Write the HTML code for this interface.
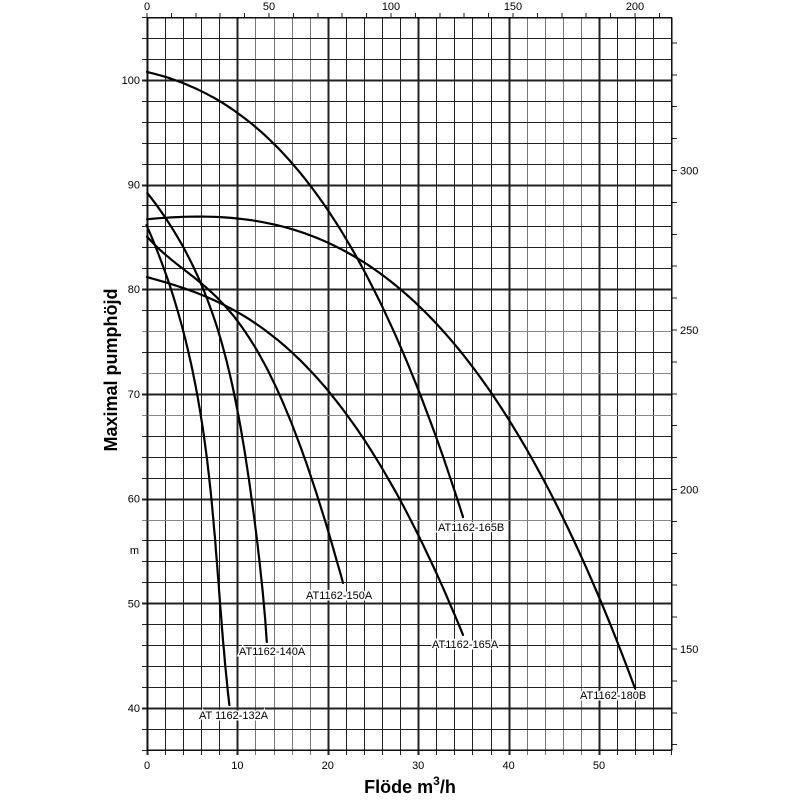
<!DOCTYPE html>
<html><head><meta charset="utf-8"><style>
html,body{margin:0;padding:0;background:#fff;}
svg{display:block;font-family:"Liberation Sans",sans-serif;}
</style></head><body>
<svg width="800" height="800" viewBox="0 0 800 800" xmlns="http://www.w3.org/2000/svg">
<g id="grid" stroke="#222" stroke-width="1" shape-rendering="crispEdges"></g>
<g id="curves" fill="none" stroke="#000" stroke-width="2.2" stroke-linejoin="round" stroke-linecap="round"></g>
<g font-size="11" fill="#000" stroke="#fff" stroke-width="3" paint-order="stroke">
<text x="438" y="531">AT1162-165B</text>
<text x="580" y="699">AT1162-180B</text>
<text x="432" y="648">AT1162-165A</text>
<text x="306" y="599">AT1162-150A</text>
<text x="239" y="655">AT1162-140A</text>
<text x="199" y="719">AT 1162-132A</text>
</g>
<text x="139" y="554" font-size="11" text-anchor="end">m</text>
<text x="410" y="793" font-size="18" font-weight="bold" text-anchor="middle">Flöde m<tspan font-size="12" dy="-8">3</tspan><tspan dy="8">/h</tspan></text>
<text transform="translate(117,370) rotate(-90)" font-size="18" font-weight="bold" text-anchor="middle">Maximal pumphöjd</text>
</svg>
<script>
(function(){
var g=document.getElementById('grid'),ns='http://www.w3.org/2000/svg';
function L(x1,y1,x2,y2,w,c){var l=document.createElementNS(ns,'line');l.setAttribute('x1',x1);l.setAttribute('y1',y1);l.setAttribute('x2',x2);l.setAttribute('y2',y2);if(w)l.setAttribute('stroke-width',w);if(c)l.setAttribute('stroke',c);g.appendChild(l);}
function T(x,y,s,a){var t=document.createElementNS(ns,'text');t.setAttribute('x',x);t.setAttribute('y',y);t.setAttribute('font-size','11');t.setAttribute('fill','#000');t.setAttribute('stroke','none');t.setAttribute('text-anchor',a||'middle');t.textContent=s;g.appendChild(t);}
var X0=147,XS=9.04,Y40=708,YS=10.47,TOP=18,BOT=750,R=672;
for(var u=0;u<=58;u+=2){var x=Math.round(X0+u*XS)+0.5;var grey=(u>=12&&u<=18)||(u>=42&&u<=48);L(x,TOP,x,BOT+5,u%10==0?1.6:1,grey&&u%10?'#777':'#222');}
for(var m=36;m<=106;m+=2){var y=Math.round(Y40-(m-40)*YS)+0.5;L(X0-5,y,R,y,m%10==0?1.6:1,(m==58||m==72||m==76||m==68)?'#888':'#222');}
for(var u=0;u<=50;u+=10)T(X0+u*XS,769,String(u));
for(var m=40;m<=100;m+=10)T(140,Y40-(m-40)*YS+4,String(m),'end');
for(var v=0;v<=210;v+=10){var x=X0+v*2.44;L(x,TOP-5,x,TOP);if(v%50==0)T(x,10,String(v));}
for(var v=120;v<=340;v+=10){var y=649-(v-150)*3.19;L(R,y,R+5,y);if(v%50==0)T(R+8,y+4,String(v),'start');}
var r=document.createElementNS(ns,'rect');r.setAttribute('x',147);r.setAttribute('y',18);r.setAttribute('width',525);r.setAttribute('height',732);r.setAttribute('fill','none');r.setAttribute('stroke','#000');r.setAttribute('stroke-width','1.2');g.appendChild(r);
var C=[
[0,[147,72,175,80,219,101,250,120,272,144,290,164,307,180,327,207,360,262,382,307,400,347,418,390,437,437,453,487,463,517]],
[0,[147,220,170,217,200,216,230,218,260,221,287,226,300,233,330,245,360,262,400,288,437,323,470,363,508,417,543,480,573,540,600,600,620,648,635,688]],
[0,[147,277,175,285,210,300,245,316,275,335,300,362,328,392,362,435,400,500,420,540,445,590,463,636]],
[0,[147,237,170,257,193,278,225,307,252,340,273,380,297,440,315,490,332,540,343,585]],
[1,[147,193,168,222,186,250,205,292,215,330,233,380,241,430,250,490,258,545,263,600,267,642]],
[1,[147,225,157,250,165,275,178,315,188,345,196,385,202,420,207,465,212,510,216,555,220,600,225,655,229,705]]];
function fit(ts,vs,deg){var n=deg+1,A=[],i,j,k;for(i=0;i<n;i++){A.push([]);for(j=0;j<=n;j++)A[i].push(0);}
var t0=ts[0],sc=ts[ts.length-1]-t0;
for(k=0;k<ts.length;k++){var t=(ts[k]-t0)/sc;for(i=0;i<n;i++){for(j=0;j<n;j++)A[i][j]+=Math.pow(t,i+j);A[i][n]+=Math.pow(t,i)*vs[k];}}
for(i=0;i<n;i++){var p=A[i][i];for(j=i;j<=n;j++)A[i][j]/=p;for(k=0;k<n;k++)if(k!=i){var f=A[k][i];for(j=i;j<=n;j++)A[k][j]-=f*A[i][j];}}
var c=[];for(i=0;i<n;i++)c.push(A[i][n]);
return function(tt){var t=(tt-t0)/sc,s=0;for(var i=0;i<n;i++)s+=c[i]*Math.pow(t,i);return s;};}
var cg=document.getElementById('curves');
C.forEach(function(e){var mode=e[0],a=e[1],xs=[],ys=[];for(var i=0;i<a.length;i+=2){xs.push(a[i]);ys.push(a[i+1]);}
var pts=[],N=80,i;
if(mode==0){var f=fit(xs,ys,4);for(i=0;i<=N;i++){var x=xs[0]+(xs[xs.length-1]-xs[0])*i/N;pts.push(x.toFixed(1)+','+f(x).toFixed(1));}}
else{var f=fit(ys,xs,4);for(i=0;i<=N;i++){var y=ys[0]+(ys[ys.length-1]-ys[0])*i/N;pts.push(f(y).toFixed(1)+','+y.toFixed(1));}}
var p=document.createElementNS(ns,'polyline');p.setAttribute('points',pts.join(' '));cg.appendChild(p);});
})();
</script>
</body></html>
